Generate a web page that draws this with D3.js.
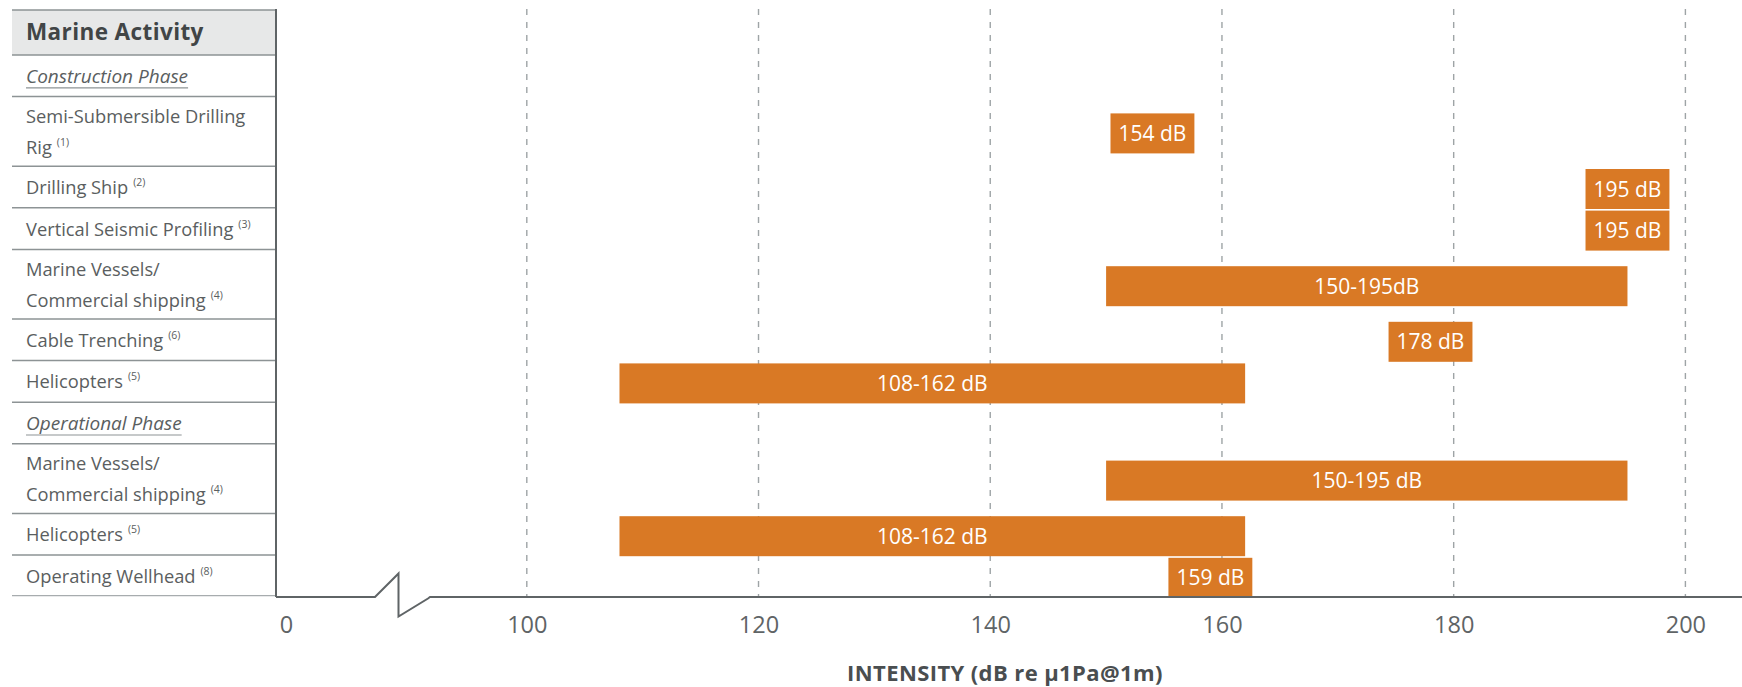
<!DOCTYPE html>
<html>
<head>
<meta charset="utf-8">
<script src="https://cdn.jsdelivr.net/npm/d3@7"></script>
<style>
  body { margin: 0; background: #fff; }
  svg { display: block; }
  text { font-family: "Open Sans", "Noto Sans", sans-serif; }
</style>
</head>
<body>
<svg id="chart" width="1742" height="687"></svg>
<script>
// Activities listed in the table, top to bottom ("\n" splits a label over two lines)
const activities = [
  "Construction Phase",
  "Semi-Submersible Drilling\nRig",
  "Drilling Ship",
  "Vertical Seismic Profiling",
  "Marine Vessels/\nCommercial shipping",
  "Cable Trenching",
  "Helicopters",
  "Operational Phase",
  "Marine Vessels/\nCommercial shipping",
  "Helicopters",
  "Operating Wellhead"
];
// Reference notes; phase headings have none
const notes = [null, "(1)", "(2)", "(3)", "(4)", "(6)", "(5)", null, "(4)", "(5)", "(8)"];
// Source level range in dB re 1 µPa @ 1 m
const lowDb  = [null, 154, 195, 195, 150, 178, 108, null, 150, 108, 159];
const highDb = [null, 154, 195, 195, 195, 178, 162, null, 195, 162, 159];
const barLabels = [null, "154 dB", "195 dB", "195 dB", "150-195dB", "178 dB", "108-162 dB",
                   null, "150-195 dB", "108-162 dB", "159 dB"];
const tickValues = [0, 100, 120, 140, 160, 180, 200];
const headerTitle = "Marine Activity";
const axisTitle = "INTENSITY (dB re µ1Pa@1m)";

const svg = d3.select("#chart");
const W = 1742;
const tableLeft = 12, plotLeft = 276;
const headerTop = 10, headerBottom = 55;
const axisY = 597;
const oneLine = 41.6, extraLine = 28;
const orange = "#d97925";
const textCol = "#5a5e60";

// Broken x scale: 0 sits just right of the axis, the break is between 0 and 100
const x = d3.scaleLinear().domain([0, 100, 200]).range([286, 526.8, 1685.4]);

// Row layout
const rows = activities.map((a, i) => {
  const lines = a.split("\n");
  return { i, lines, h: oneLine + (lines.length - 1) * extraLine,
           note: notes[i], lo: lowDb[i], hi: highDb[i], label: barLabels[i] };
});
let acc = headerBottom;
rows.forEach(r => { r.top = acc; acc += r.h; r.bottom = acc; r.mid = (r.top + r.bottom) / 2; });

// Gridlines
svg.append("g").selectAll("line")
  .data(tickValues.filter(t => t >= 100))
  .join("line")
  .attr("x1", d => x(d)).attr("x2", d => x(d))
  .attr("y1", 9).attr("y2", axisY)
  .attr("stroke", "#9ea4a6").attr("stroke-width", 1.4)
  .attr("stroke-dasharray", "6,7");

// Table header
svg.append("rect")
  .attr("x", tableLeft).attr("y", headerTop)
  .attr("width", plotLeft - tableLeft).attr("height", headerBottom - headerTop)
  .attr("fill", "#e7e8e8");
svg.append("line")
  .attr("x1", tableLeft).attr("x2", plotLeft).attr("y1", headerTop).attr("y2", headerTop)
  .attr("stroke", "#8d9395").attr("stroke-width", 1.5);
svg.append("text")
  .attr("x", 26).attr("y", 40)
  .attr("font-size", 22.5).attr("font-weight", 700).attr("fill", "#414546")
  .attr("letter-spacing", 0.4)
  .text(headerTitle);

// Row separators
svg.append("g").selectAll("line")
  .data(rows)
  .join("line")
  .attr("x1", tableLeft).attr("x2", plotLeft)
  .attr("y1", d => d.top).attr("y2", d => d.top)
  .attr("stroke", "#8d9395").attr("stroke-width", 1.5);
svg.append("line")
  .attr("x1", tableLeft).attr("x2", plotLeft)
  .attr("y1", rows[rows.length - 1].bottom - 1).attr("y2", rows[rows.length - 1].bottom - 1)
  .attr("stroke", "#a7acae").attr("stroke-width", 1.2);

// Row labels
const lineGap = 31;
rows.forEach(r => {
  const n = r.lines.length;
  const base0 = r.mid + 7 - (n - 1) * lineGap / 2;
  const isPhase = r.note === null;
  r.lines.forEach((ln, k) => {
    const t = svg.append("text")
      .attr("x", 26).attr("y", base0 + k * lineGap)
      .attr("font-size", isPhase ? 19 : 18.3).attr("fill", textCol)
      .attr("font-style", isPhase ? "italic" : "normal");
    t.append("tspan").text(ln);
    if (!isPhase && k === n - 1) {
      t.append("tspan").attr("dx", 5).attr("dy", -8).attr("font-size", 10.5).text(r.note);
    }
    if (isPhase) {
      const w = t.node().getComputedTextLength();
      svg.append("line")
        .attr("x1", 26).attr("x2", 26 + w)
        .attr("y1", base0 + 5).attr("y2", base0 + 5)
        .attr("stroke", "#8d9395").attr("stroke-width", 1.2);
    }
  });
});

// Bars and their value labels
const barH = 40;
const bars = svg.append("g");
rows.filter(r => r.lo !== null).forEach(r => {
  const cy = r.mid + 2;
  const g = bars.append("g");
  const rect = g.append("rect").attr("fill", orange)
    .attr("y", cy - barH / 2).attr("height", barH);
  const lab = g.append("text")
    .attr("y", cy + 7.5).attr("text-anchor", "middle")
    .attr("font-size", 21).attr("fill", "#fff")
    .text(r.label);
  let x0, x1;
  if (r.lo === r.hi) {
    const w = lab.node().getComputedTextLength() + 16;
    x0 = x(r.lo) - w / 2; x1 = x(r.lo) + w / 2;
  } else {
    x0 = x(r.lo); x1 = x(r.hi);
  }
  rect.attr("x", x0).attr("width", x1 - x0);
  lab.attr("x", (x0 + x1) / 2);
});

// Left edge of the plot
svg.append("line")
  .attr("x1", plotLeft).attr("x2", plotLeft).attr("y1", 9).attr("y2", axisY)
  .attr("stroke", "#5f6466").attr("stroke-width", 2);

// Axis with a break between 0 and 100
const axisG = svg.append("g").attr("transform", `translate(0,${axisY})`)
  .call(d3.axisBottom(x).tickValues(tickValues).tickSize(0).tickPadding(19).tickFormat(d3.format("d")));
axisG.select(".domain").remove();
axisG.selectAll("text")
  .attr("font-size", 23.5).attr("fill", "#5f6466")
  .attr("font-family", "\"Open Sans\", sans-serif");
svg.append("path")
  .attr("d", `M${plotLeft},${axisY}H375L398.5,573.5V616.5L428,598.5L430,${axisY}H${W}`)
  .attr("fill", "none").attr("stroke", "#5f6466").attr("stroke-width", 2)
  .attr("stroke-linejoin", "miter");

// Axis title
svg.append("text")
  .attr("x", 1005).attr("y", 681).attr("text-anchor", "middle")
  .attr("font-size", 22).attr("font-weight", 700).attr("fill", "#4a4e50")
  .attr("letter-spacing", 0.4)
  .text(axisTitle);
</script>
</body>
</html>
